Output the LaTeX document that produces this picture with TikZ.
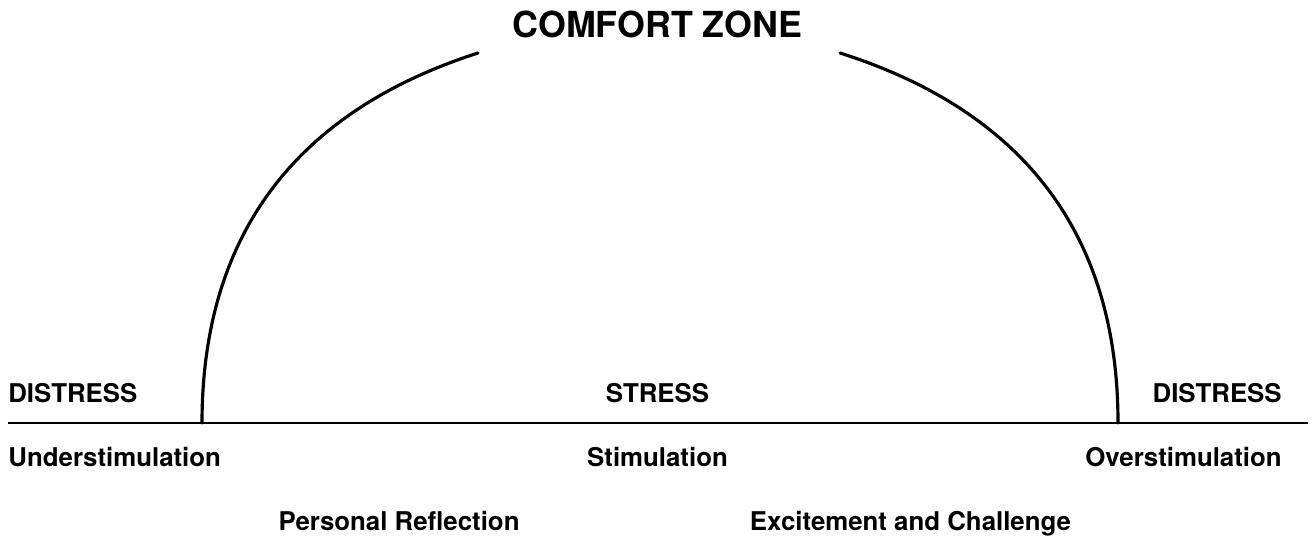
\documentclass[tikz,border=0pt]{standalone}
\usepackage{fontspec}
\setmainfont{TeX Gyre Heros}
\usetikzlibrary{positioning}
\tikzset{
  lbl/.style={font=\fontsize{14.7}{17}\selectfont\bfseries, inner sep=0pt, anchor=base},
  ttl/.style={lbl, font=\fontsize{20.4}{24}\selectfont\bfseries},
  axisline/.style={line width=1.6pt},
  zoneline/.style={line width=1.8pt, line cap=round},
}
\begin{document}
\begin{tikzpicture}[x=0.02cm, y=-0.02cm]
  \useasboundingbox (0,0) rectangle (1314,540);

  % title and labels
  \node[ttl] (comfort) at (657.5,38) {COMFORT ZONE};
  \node[lbl, anchor=base west] (distL) at (8,402) {DISTRESS};
  \node[lbl] (stress) at (657.5,402) {STRESS};
  \node[lbl, anchor=base east] (distR) at (1282,402) {DISTRESS};
  \node[lbl, below=1.3cm of distL.base west, anchor=base west] (under) {Understimulation};
  \node[lbl, below=1.3cm of stress.base, anchor=base] (stim) {Stimulation};
  \node[lbl, below=1.3cm of distR.base east, anchor=base east] (over) {Overstimulation};
  \node[lbl, below left=1.28cm and 5.17cm of stim.base, anchor=base] (reflect) {Personal Reflection};
  \node[lbl, below right=1.28cm and 5.06cm of stim.base, anchor=base] (excite) {Excitement and Challenge};

  % axis and comfort curve
  \coordinate (lineW) at (8,423);
  \coordinate (lineE) at (1308,423);
  \coordinate (footL) at (202,423);
  \coordinate (footR) at (1118,423);
  \coordinate (endL) at (478,53);
  \coordinate (endR) at (840,53);

  \draw[axisline] (lineW) -- (lineE);
  \draw[zoneline] (footL) .. controls (202,243) and (288,114) .. (endL);
  \draw[zoneline] (footR) .. controls (1118,243) and (1032,114) .. (endR);
\end{tikzpicture}
\end{document}
